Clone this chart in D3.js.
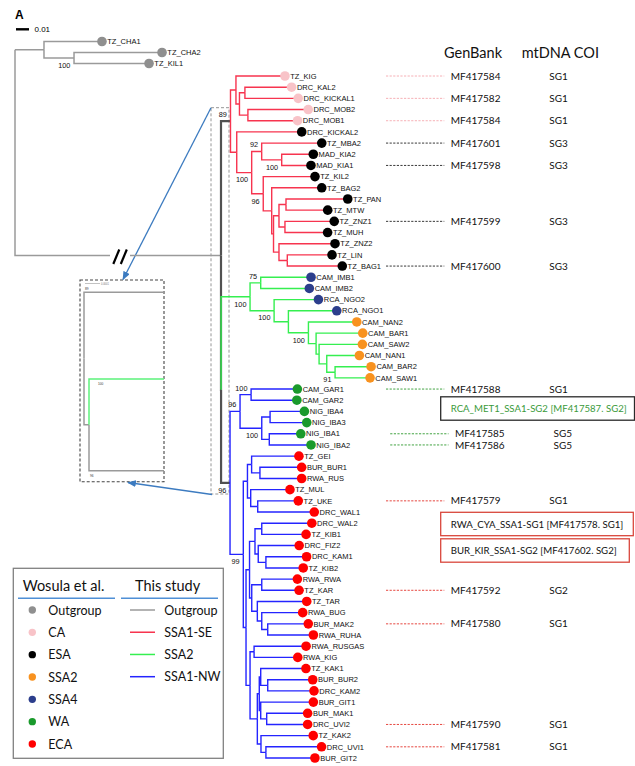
<!DOCTYPE html>
<html>
<head>
<meta charset="utf-8">
<script src="https://cdn.jsdelivr.net/npm/d3@7"></script>
<style>
  body { margin: 0; background: #fff; }
  svg { display: block; }
</style>
</head>
<body>
<svg id="chart" width="635" height="766"></svg>
<script>
// ---------------------------------------------------------------------------
// Data
// ---------------------------------------------------------------------------

// Ingroup tree (Newick). Branch lengths in substitutions/site; internal labels are node ids.
const ingroupNewick =
  "((" +
    "(TZ_KIG:0.0377,((DRC_KAL2:0.0359,DRC_KICKAL1:0.0410)P3:0.0042,(DRC_MOB2:0.0464,DRC_MOB1:0.0382)P4:0.0065)P2:0.0027)P1:0.0042," +
    "(DRC_KICKAL2:0.0500,((TZ_MBA2:0.0462,(MAD_KIA2:0.0243,MAD_KIA1:0.0225)M2:0.0154)M1:0.0077," +
      "(TZ_KIL2:0.0398,(TZ_BAG2:0.0385,(((TZ_PAN:0.0475,TZ_MTW:0.0321)K5:0.0054,(TZ_ZNZ1:0.0379,TZ_MUH:0.0328)K6:0.0046)K4:0.0042," +
      "(TZ_ZNZ2:0.0431,(TZ_LIN:0.0344,TZ_BAG1:0.0423)K8:0.0064)K7:0.0042)K3:0.0014)K2:0.0065)K1:0.0089)E1:0.0115)E0:0.0048" +
  ")SE:0.0073,(" +
    "((CAM_IMB1:0.0387,CAM_IMB2:0.0374)G1:0.0082,(RCA_NGO2:0.0341,(RCA_NGO1:0.0372,(CAM_NAN2:0.0372,(CAM_BAR1:0.0359," +
      "(CAM_SAW2:0.0333,(CAM_NAN1:0.0251,(CAM_BAR2:0.0277,CAM_SAW1:0.0269)G8:0.0064)G7:0.0059)G6:0.0023)G5:0.0059)G4:0.0154)G3:0.0110)G2:0.0185)SSA2:0.0223," +
    "(((CAM_GAR1:0.0356,CAM_GAR2:0.0352)B1a:0.0085,((NIG_IBA4:0.0264,NIG_IBA3:0.0282)B3:0.0064,(NIG_IBA1:0.0242,NIG_IBA2:0.0321)B4:0.0058)B2:0.0167)B1:0.0077," +
      "(((TZ_GEI:0.0364,(BUR_BUR1:0.0321,RWA_RUS:0.0321)C3:0.0064)C4:0.0032,(TZ_MUL:0.0302,(TZ_UKE:0.0312,DRC_WAL1:0.0435)C6:0.0054)C5:0.0025)C1:0.0032," +
      "((((DRC_WAL2:0.0385,TZ_KIB1:0.0341)C7a:0.0052,(DRC_FIZ2:0.0315,(DRC_KAM1:0.0313,TZ_KIB2:0.0287)C7c:0.0059)C7b:0.0025)C7:0.0042," +
        "((RWA_RWA:0.0274,TZ_KAR:0.0287)C10a:0.0077,(TZ_TAR:0.0380,(RWA_BUG:0.0315,(BUR_MAK2:0.0312,RWA_RUHA:0.0351)C10d:0.0046)C10c:0.0034)C10b:0.0043)C10:0.0017)C8:0.0027," +
        "((RWA_RUSGAS:0.0400,RWA_KIG:0.0336)C9a:0.0031,(((TZ_KAK1:0.0348,(BUR_BUR2:0.0346,DRC_KAM2:0.0356)C9e:0.0054)C9d:0.0011," +
          "(BUR_GIT1:0.0405,(BUR_MAK1:0.0315,DRC_UVI2:0.0315)C9f2:0.0046)C9f:0.0011)C9c:0.0015,(TZ_KAK2:0.0402,(DRC_UVI1:0.0428,BUR_GIT2:0.0377)C9i:0.0038)C9h:0.0028)C9b:0.0056)C9:0.0031" +
      ")C2:0.0021)C0:0.0102" +
    ")NW:0.0069" +
  ")X:0.00005)ROOT;";

// Outgroup clade, attached to the tree root through a long (broken) branch
const outgroupNewick = "(TZ_CHA1:0.0446,(TZ_CHA2:0.0677,TZ_KIL1:0.0577)O2:0.0231)O1:0.0223;";

// Bootstrap support (node id, value)
const supportNodes  = ["SE", "M1", "M2", "E1", "K1", "G1", "SSA2", "G2", "G4", "G8", "B1a", "B1", "B2", "NW", "C0", "O2"];
const supportValues = [89, 92, 100, 100, 96, 75, 100, 100, 100, 91, 100, 96, 100, 96, 99, 100];

// Groups of Wosula et al.
const outgroupTaxa = ["TZ_CHA1", "TZ_CHA2", "TZ_KIL1"];
const caTaxa   = ["TZ_KIG", "DRC_KAL2", "DRC_KICKAL1", "DRC_MOB2", "DRC_MOB1"];
const esaTaxa  = ["DRC_KICKAL2", "TZ_MBA2", "MAD_KIA2", "MAD_KIA1", "TZ_KIL2", "TZ_BAG2", "TZ_PAN", "TZ_MTW",
                  "TZ_ZNZ1", "TZ_MUH", "TZ_ZNZ2", "TZ_LIN", "TZ_BAG1"];
const ssa2Taxa = ["CAM_NAN2", "CAM_BAR1", "CAM_SAW2", "CAM_NAN1", "CAM_BAR2", "CAM_SAW1"];
const ssa4Taxa = ["CAM_IMB1", "CAM_IMB2", "RCA_NGO2", "RCA_NGO1"];
const waTaxa   = ["CAM_GAR1", "CAM_GAR2", "NIG_IBA4", "NIG_IBA3", "NIG_IBA1", "NIG_IBA2"];
const ecaTaxa  = ["TZ_GEI", "BUR_BUR1", "RWA_RUS", "TZ_MUL", "TZ_UKE", "DRC_WAL1", "DRC_WAL2", "TZ_KIB1",
                  "DRC_FIZ2", "DRC_KAM1", "TZ_KIB2", "RWA_RWA", "TZ_KAR", "TZ_TAR", "RWA_BUG", "BUR_MAK2",
                  "RWA_RUHA", "RWA_RUSGAS", "RWA_KIG", "TZ_KAK1", "BUR_BUR2", "DRC_KAM2", "BUR_GIT1",
                  "BUR_MAK1", "DRC_UVI2", "TZ_KAK2", "DRC_UVI1", "BUR_GIT2"];

const groupNames   = ["Outgroup", "CA", "ESA", "SSA2", "SSA4", "WA", "ECA"];
const groupMembers = [outgroupTaxa, caTaxa, esaTaxa, ssa2Taxa, ssa4Taxa, waTaxa, ecaTaxa];

// Lineages of this study (clade root id -> legend name)
const lineageNodes = ["SE", "SSA2", "NW"];
const lineageNames = ["SSA1-SE", "SSA2", "SSA1-NW"];

// GenBank accessions and mtDNA COI subgroups of representative isolates
const genbankTaxa = ["TZ_KIG", "DRC_KICKAL1", "DRC_MOB1", "TZ_MBA2", "MAD_KIA1", "TZ_ZNZ1", "TZ_BAG1",
                     "CAM_GAR1", "NIG_IBA1", "NIG_IBA2", "TZ_UKE", "TZ_KAR", "BUR_MAK2", "DRC_UVI2", "DRC_UVI1"];
const genbankAcc  = ["MF417584", "MF417582", "MF417584", "MF417601", "MF417598", "MF417599", "MF417600",
                     "MF417588", "MF417585", "MF417586", "MF417579", "MF417592", "MF417580", "MF417590", "MF417581"];
const coiGroup    = ["SG1", "SG1", "SG1", "SG3", "SG3", "SG3", "SG3",
                     "SG1", "SG5", "SG5", "SG1", "SG2", "SG1", "SG1", "SG1"];

// Isolates not in the tree, with their accession and subgroup
const noteTexts  = ["RCA_MET1_SSA1-SG2 [MF417587. SG2]", "RWA_CYA_SSA1-SG1 [MF417578. SG1]", "BUR_KIR_SSA1-SG2 [MF417602. SG2]"];
const noteGroups = ["WA", "ECA", "ECA"];

// ---------------------------------------------------------------------------
// Styles and layout
// ---------------------------------------------------------------------------
const dotColour = { Outgroup: "#8f8f8f", CA: "#f8c3c8", ESA: "#000000", SSA2: "#f8921f",
                    SSA4: "#2c3e8c", WA: "#1a9a2c", ECA: "#ff0000" };
const lineColour = { Outgroup: "#9a9a9a", "SSA1-SE": "#f7344f", SSA2: "#35ef50", "SSA1-NW": "#2424ff" };
const connectorColour = { CA: "#f5a7ae", ESA: "#222", WA: "#2f9a2f", ECA: "#e3332b" };
const noteStroke = { WA: "#2a2a2a", ECA: "#d9473c" };
const noteFill   = { WA: "#3a9a3a", ECA: "#111" };
const backbone = "#515151";
const colouredStems = new Set(["SSA2"]);
const supportAbove = new Set(["SE", "M1", "G1", "B1a", "B1"]);
const shiftedRows = new Set(["NIG_IBA1", "NIG_IBA2"]);
const noteRows = [29.74, 40.07, 42.44];          // vertical anchor, in leaf-row units
const noteRight = [634.5, 633.3, 629.3];
const noteWidth = [176, 172.6, 166];

const TREE_FONT = "'Liberation Sans', Arial, sans-serif";
const TEXT_FONT = "Lato, 'Open Sans', sans-serif";

// ---------------------------------------------------------------------------
// Helpers
// ---------------------------------------------------------------------------
function parseNewick(str) {
  let i = 0;
  function node() {
    const n = { children: [] };
    if (str[i] === "(") {
      i++;
      n.children.push(node());
      while (str[i] === ",") { i++; n.children.push(node()); }
      i++; // closing parenthesis
    }
    let name = "";
    while (i < str.length && !":,();".includes(str[i])) name += str[i++];
    n.name = name;
    n.length = 0;
    if (str[i] === ":") {
      i++;
      let num = "";
      while (i < str.length && !",();".includes(str[i])) num += str[i++];
      n.length = +num;
    }
    if (!n.children.length) delete n.children;
    return n;
  }
  return node();
}

const groupOf = {};
groupNames.forEach((g, k) => groupMembers[k].forEach(t => { groupOf[t] = g; }));
const lineageOf = {};
lineageNodes.forEach((n, k) => { lineageOf[n] = lineageNames[k]; });

const svg = d3.select("#chart");
const defs = svg.append("defs");
defs.append("marker").attr("id", "arrow").attr("viewBox", "0 0 10 8")
  .attr("refX", 9).attr("refY", 4).attr("markerWidth", 9).attr("markerHeight", 7)
  .attr("markerUnits", "userSpaceOnUse").attr("orient", "auto")
  .append("path").attr("d", "M0,0L10,4L0,8Z").attr("fill", "#3c7bc0");

// ---------------------------------------------------------------------------
// Ingroup layout
// ---------------------------------------------------------------------------
const tree = d3.hierarchy(parseNewick(ingroupNewick));
const leafOrder = tree.leaves().map(d => d.data.name);
const y = d3.scalePoint().domain(leafOrder).range([76, 758]);
const rowY = d3.scaleLinear().domain([0, leafOrder.length - 1]).range([76, 758]);
const x = d3.scaleLinear().domain([0, 0.01]).range([221, 234]);

tree.eachBefore(d => {
  d.dist = d.parent ? d.parent.dist + d.data.length : 0;
  d.px = x(d.dist);
});
tree.eachAfter(d => {
  d.py = d.children ? (d.children[0].py + d.children[d.children.length - 1].py) / 2 : y(d.data.name);
});
const byId = {};
tree.each(d => { if (d.data.name) byId[d.data.name] = d; });

function branchColour(d) {
  for (let a = d; a; a = a.parent) {
    const lin = lineageOf[a.data.name];
    if (lin) {
      if (a === d && !colouredStems.has(a.data.name)) return backbone;
      return lineColour[lin];
    }
  }
  return backbone;
}

// ---------------------------------------------------------------------------
// Outgroup layout
// ---------------------------------------------------------------------------
const out = d3.hierarchy(parseNewick(outgroupNewick));
const yOut = d3.scalePoint().domain(out.leaves().map(d => d.data.name)).range([41.5, 63.5]);
const xOut = d3.scaleLinear().domain([0, 0.01]).range([15, 28]);
out.eachBefore(d => {
  d.dist = (d.parent ? d.parent.dist : 0) + d.data.length;
  d.px = xOut(d.dist);
});
out.eachAfter(d => {
  d.py = d.children ? (d.children[0].py + d.children[d.children.length - 1].py) / 2 : yOut(d.data.name);
});
out.each(d => { if (d.data.name) byId[d.data.name] = d; });
const globalRoot = { px: xOut(0) };

// ---------------------------------------------------------------------------
// Dashed frame around the backbone, zoomed inset and arrows
// ---------------------------------------------------------------------------
const frame = { x0: 211, x1: 229, y0: 107.7, y1: 494 };
svg.append("rect").attr("x", frame.x0).attr("y", frame.y0)
  .attr("width", frame.x1 - frame.x0).attr("height", frame.y1 - frame.y0)
  .attr("fill", "none").attr("stroke", "#8a8a8a").attr("stroke-width", 0.9)
  .attr("stroke-dasharray", "3,2");

const inset = { x0: 80, x1: 164, y0: 280, y1: 481.7 };
svg.append("rect").attr("x", inset.x0).attr("y", inset.y0)
  .attr("width", inset.x1 - inset.x0).attr("height", inset.y1 - inset.y0)
  .attr("fill", "none").attr("stroke", "#444").attr("stroke-width", 1.1)
  .attr("stroke-dasharray", "3,2");

// backbone seen at a much finer scale
const insetY = d3.scaleLinear().domain([byId.SE.py, byId.NW.py]).range([292.3, 470.7]);
const insetX = d3.scaleLinear().domain([0, 0.00005]).range([84, 89]);
defs.append("clipPath").attr("id", "insetClip").append("rect")
  .attr("x", inset.x0).attr("y", inset.y0).attr("width", inset.x1 - inset.x0).attr("height", inset.y1 - inset.y0);
const insetG = svg.append("g").attr("clip-path", "url(#insetClip)");
const insetNodes = [byId.SE, byId.X, byId.NW, byId.SSA2];
insetG.selectAll("path").data(insetNodes).join("path")
  .attr("d", d => `M${insetX(d.parent.dist)},${insetY(d.parent.py)}V${insetY(d.py)}H${insetX(d.dist)}`)
  .attr("fill", "none")
  .attr("stroke", d => colouredStems.has(d.data.name) ? "#5cf27b" : "#9a9a9a")
  .attr("stroke-width", 1.5);
// tiny scale bar and support values of the inset
svg.append("line").attr("x1", 85).attr("x2", 100).attr("y1", 283.5).attr("y2", 283.5)
  .attr("stroke", "#999").attr("stroke-width", 0.6);
svg.append("text").attr("x", 101).attr("y", 284.5).attr("font-size", 2.6).attr("fill", "#777")
  .attr("font-family", TREE_FONT).text("0.0001");
[["SE", 0, -2.5], ["SSA2", 8, 6], ["NW", 0, 6]].forEach(([id, dx, dy]) => {
  const d = byId[id];
  svg.append("text").attr("x", insetX(d.parent.dist) + 1 + dx).attr("y", insetY(d.py) + dy)
    .attr("font-size", 3.2).attr("font-family", TREE_FONT).attr("fill", "#333")
    .text(supportValues[supportNodes.indexOf(id)]);
});

svg.append("line").attr("x1", frame.x0).attr("y1", frame.y0).attr("x2", 123).attr("y2", 279.5)
  .attr("stroke", "#3c7bc0").attr("stroke-width", 1.3).attr("marker-end", "url(#arrow)");
svg.append("line").attr("x1", frame.x0 + 1).attr("y1", frame.y1 + 0.5).attr("x2", 128).attr("y2", 482.5)
  .attr("stroke", "#3c7bc0").attr("stroke-width", 1.3).attr("marker-end", "url(#arrow)");

// ---------------------------------------------------------------------------
// Branches
// ---------------------------------------------------------------------------
const gTree = svg.append("g");

// outgroup and the broken root branch
const breakGap = [110, 130];
const outLinks = out.descendants();
gTree.append("path")
  .attr("d", `M${globalRoot.px},${out.py}V${tree.py}H${breakGap[0]}M${breakGap[1]},${tree.py}H${tree.px}`)
  .attr("fill", "none").attr("stroke", lineColour.Outgroup).attr("stroke-width", 1.5);
gTree.selectAll("path.out").data(outLinks).join("path").attr("class", "out")
  .attr("d", d => `M${d.parent ? d.parent.px : globalRoot.px},${d.py}` +
                  (d.parent ? `M${d.parent.px},${d.parent.py}V${d.py}H${d.px}` : `H${d.px}`))
  .attr("fill", "none").attr("stroke", lineColour.Outgroup).attr("stroke-width", 1.5);
// break marks
[0, 7.5].forEach(off => {
  gTree.append("line").attr("x1", 113.3 + off).attr("y1", tree.py + 8.5)
    .attr("x2", 119.3 + off).attr("y2", tree.py - 6)
    .attr("stroke", "#000").attr("stroke-width", 2.2);
});

// ingroup branches, backbone underneath
const links = tree.descendants().filter(d => d.parent)
  .map(d => ({ node: d, colour: branchColour(d) }))
  .sort((a, b) => (a.colour === backbone ? 0 : 1) - (b.colour === backbone ? 0 : 1));
gTree.selectAll("path.branch").data(links).join("path").attr("class", "branch")
  .attr("d", l => `M${l.node.parent.px},${l.node.parent.py}V${l.node.py}H${l.node.px}`)
  .attr("fill", "none")
  .attr("stroke", l => l.colour)
  .attr("stroke-width", l => l.colour === backbone ? 2.2 : 1.4);

// ---------------------------------------------------------------------------
// Tips
// ---------------------------------------------------------------------------
const tips = tree.leaves().concat(out.leaves());
gTree.selectAll("circle.tip").data(tips).join("circle").attr("class", "tip")
  .attr("cx", d => d.px).attr("cy", d => d.py).attr("r", 4.8)
  .attr("fill", d => dotColour[groupOf[d.data.name]]);
gTree.selectAll("text.tip").data(tips).join("text").attr("class", "tip")
  .attr("x", d => d.px + 5.3).attr("y", d => d.py).attr("dy", "0.36em")
  .attr("font-family", TREE_FONT).attr("font-size", 7.5).attr("fill", "#111")
  .text(d => d.data.name);

// support values
gTree.selectAll("text.support").data(supportNodes).join("text").attr("class", "support")
  .attr("x", id => byId[id].px - 3.6)
  .attr("y", id => byId[id].py + (supportAbove.has(id) ? -4 : 9.8))
  .attr("text-anchor", "end")
  .attr("font-family", TREE_FONT).attr("font-size", 7.3).attr("fill", "#111")
  .text((id, k) => supportValues[k]);

// panel letter and scale bar
svg.append("text").attr("x", 15).attr("y", 18.5).attr("font-family", TREE_FONT)
  .attr("font-weight", "bold").attr("font-size", 12).text("A");
svg.append("line").attr("x1", 16).attr("x2", 16 + (x(0.01) - x(0))).attr("y1", 29.3).attr("y2", 29.3)
  .attr("stroke", "#000").attr("stroke-width", 2.4);
svg.append("text").attr("x", 34.5).attr("y", 32).attr("font-family", TREE_FONT)
  .attr("font-size", 8).text("0.01");

// ---------------------------------------------------------------------------
// GenBank / mtDNA COI columns
// ---------------------------------------------------------------------------
const colAcc = 450.7, colCoi = 549.3, dashFrom = 386, dashTo = 444.3;
svg.append("text").attr("x", 444).attr("y", 57.8).attr("font-family", TEXT_FONT)
  .attr("font-size", 14.5).attr("fill", "#111").text("GenBank");
svg.append("text").attr("x", 521.7).attr("y", 57.8).attr("font-family", TEXT_FONT)
  .attr("font-size", 14.5).attr("fill", "#111").text("mtDNA COI");

const rows = genbankTaxa.map((t, k) => ({ taxon: t, acc: genbankAcc[k], coi: coiGroup[k],
  shift: shiftedRows.has(t) ? 4.2 : 0 }));
const gRows = svg.append("g");
gRows.selectAll("line").data(rows).join("line")
  .attr("x1", r => dashFrom + r.shift).attr("x2", r => dashTo + r.shift)
  .attr("y1", r => y(r.taxon)).attr("y2", r => y(r.taxon))
  .attr("stroke", r => connectorColour[groupOf[r.taxon]])
  .attr("stroke-width", 0.9).attr("stroke-dasharray", "2.2,1.4");
gRows.selectAll("text.acc").data(rows).join("text").attr("class", "acc")
  .attr("x", r => colAcc + r.shift).attr("y", r => y(r.taxon)).attr("dy", "0.36em")
  .attr("font-family", TEXT_FONT).attr("font-size", 10).attr("fill", "#111")
  .text(r => r.acc);
gRows.selectAll("text.coi").data(rows).join("text").attr("class", "coi")
  .attr("x", r => colCoi + r.shift).attr("y", r => y(r.taxon)).attr("dy", "0.36em")
  .attr("font-family", TEXT_FONT).attr("font-size", 10).attr("fill", "#111")
  .text(r => r.coi);

// boxed notes
noteTexts.forEach((t, k) => {
  const cy = rowY(noteRows[k]);
  svg.append("rect").attr("x", 440.7).attr("y", cy - 11.7)
    .attr("width", noteRight[k] - 440.7).attr("height", 23.4)
    .attr("fill", "none").attr("stroke", noteStroke[noteGroups[k]]).attr("stroke-width", 1.3);
  svg.append("text").attr("x", colAcc).attr("y", cy).attr("dy", "0.36em")
    .attr("font-family", TEXT_FONT).attr("font-size", 10)
    .attr("textLength", noteWidth[k]).attr("lengthAdjust", "spacingAndGlyphs")
    .attr("fill", noteFill[noteGroups[k]]).text(t);
});

// ---------------------------------------------------------------------------
// Legend
// ---------------------------------------------------------------------------
const legend = svg.append("g");
legend.append("rect").attr("x", 13.3).attr("y", 568.3).attr("width", 210).attr("height", 190)
  .attr("fill", "#fff").attr("stroke", "#808080").attr("stroke-width", 1.3);
legend.append("text").attr("x", 22.7).attr("y", 591).attr("font-family", TEXT_FONT)
  .attr("font-size", 14.5).attr("fill", "#111").text("Wosula et al.");
legend.append("text").attr("x", 135).attr("y", 591).attr("font-family", TEXT_FONT)
  .attr("font-size", 14.5).attr("fill", "#111").text("This study");
[[18, 115], [121, 218]].forEach(([a, b]) => {
  legend.append("line").attr("x1", a).attr("x2", b).attr("y1", 598.3).attr("y2", 598.3)
    .attr("stroke", "#4f8fd6").attr("stroke-width", 1.4);
});
const legY = d3.scalePoint().domain(groupNames).range([610, 744]);
legend.selectAll("circle").data(groupNames).join("circle")
  .attr("cx", 32.3).attr("cy", g => legY(g)).attr("r", 3.7).attr("fill", g => dotColour[g]);
legend.selectAll("text.grp").data(groupNames).join("text").attr("class", "grp")
  .attr("x", 48.3).attr("y", g => legY(g)).attr("dy", "0.36em")
  .attr("font-family", TEXT_FONT).attr("font-size", 12.5).attr("fill", "#111").text(g => g);
const lineItems = ["Outgroup"].concat(lineageNames);
const legY2 = d3.scalePoint().domain(lineItems).range([610, 676.7]);
legend.selectAll("line.lin").data(lineItems).join("line").attr("class", "lin")
  .attr("x1", 130).attr("x2", 155).attr("y1", l => legY2(l)).attr("y2", l => legY2(l))
  .attr("stroke", l => lineColour[l]).attr("stroke-width", 1.5);
legend.selectAll("text.lin").data(lineItems).join("text").attr("class", "lin")
  .attr("x", 164.3).attr("y", l => legY2(l)).attr("dy", "0.36em")
  .attr("font-family", TEXT_FONT).attr("font-size", 12.5).attr("fill", "#111").text(l => l);
</script>
</body>
</html>
